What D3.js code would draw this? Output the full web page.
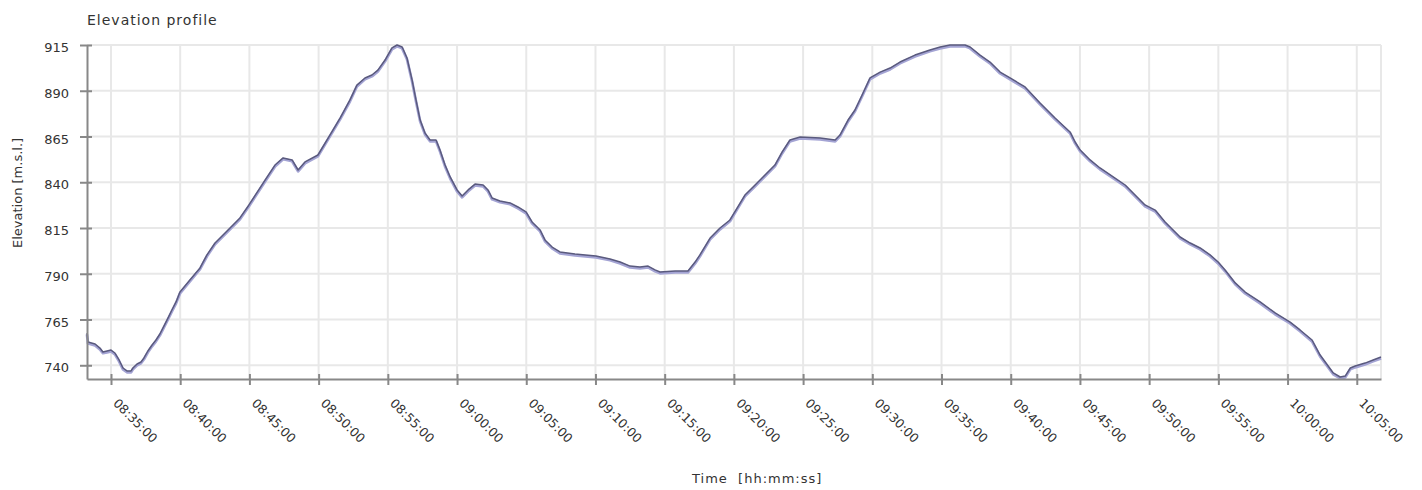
<!DOCTYPE html>
<html>
<head>
<meta charset="utf-8">
<script src="https://cdn.jsdelivr.net/npm/d3@7"></script>
<style>
  html, body { margin: 0; padding: 0; background: #fff; }
  svg { display: block; font-family: "DejaVu Sans", sans-serif; }
</style>
</head>
<body>
<svg id="chart" width="1422" height="490"></svg>
<script>
// Recorded track: clock time and elevation above mean sea level
const times = [
  "08:33:16","08:33:20","08:33:51","08:34:12","08:34:25","08:34:43","08:35:00","08:35:17",
  "08:35:35","08:35:52","08:36:09","08:36:27","08:36:35","08:36:53","08:37:10","08:37:23",
  "08:37:40","08:37:58","08:38:15","08:38:32","08:38:50","08:39:07","08:39:24","08:39:42",
  "08:39:59","08:40:42","08:41:26","08:41:56","08:42:31","08:43:36","08:44:19","08:44:58",
  "08:46:08","08:46:51","08:47:26","08:48:05","08:48:31","08:49:01","08:49:57","08:50:49",
  "08:51:33","08:52:16","08:52:46","08:53:21","08:53:51","08:54:17","08:54:48","08:55:18",
  "08:55:40","08:56:02","08:56:23","08:56:45","08:57:02","08:57:20","08:57:41","08:58:03",
  "08:58:29","08:58:46","08:59:08","08:59:30","09:00:00","09:00:22","09:00:48","09:01:18",
  "09:01:53","09:02:14","09:02:32","09:03:06","09:03:50","09:04:24","09:04:59","09:05:25",
  "09:06:00","09:06:21","09:06:52","09:07:26","09:08:31","09:10:02","09:11:03","09:11:47",
  "09:12:30","09:13:13","09:13:48","09:14:18","09:14:40","09:15:45","09:16:41","09:17:12",
  "09:17:33","09:18:17","09:19:00","09:19:43","09:20:14","09:20:48","09:21:32","09:22:15",
  "09:22:58","09:23:29","09:24:03","09:24:47","09:26:14","09:27:19","09:27:40","09:28:15",
  "09:28:45","09:29:16","09:29:50","09:30:34","09:31:17","09:32:00","09:33:05","09:34:10",
  "09:34:54","09:35:37","09:36:42","09:37:04","09:37:47","09:38:30","09:39:14","09:39:57",
  "09:41:02","09:42:07","09:43:12","09:44:17","09:44:39","09:45:01","09:45:44","09:46:27",
  "09:47:32","09:48:16","09:48:59","09:49:42","09:50:26","09:51:09","09:52:14","09:52:58",
  "09:53:41","09:54:24","09:54:59","09:55:29","09:56:13","09:56:56","09:58:01","09:59:06",
  "10:00:11","10:00:54","10:01:46","10:02:21","10:03:18","10:03:48","10:04:10","10:04:32",
  "10:04:53","10:05:36","10:06:11","10:06:45"
];
const elevations = [
  757.6,752.7,751.6,749.4,747.3,747.8,748.3,746.7,
  742.9,738.5,736.9,736.9,738.5,740.7,741.8,744.0,
  747.8,751.1,753.8,757.1,761.5,765.8,770.2,774.6,
  780.0,786.6,793.2,800.3,806.8,815.0,820.5,827.6,
  841.2,849.4,853.3,852.2,846.7,851.1,854.9,865.8,
  875.1,885.0,893.1,897.0,898.6,901.3,906.8,913.4,
  915.0,913.9,907.9,895.9,885.0,874.0,866.9,863.1,
  863.1,857.6,849.4,842.9,835.8,832.5,835.8,839.0,
  838.5,835.8,831.4,829.8,828.7,826.5,823.8,818.3,
  813.9,808.5,804.6,801.9,800.8,799.7,798.1,796.4,
  794.2,793.7,794.2,792.1,791.0,791.5,791.5,796.4,
  800.3,809.5,815.0,819.4,825.9,833.0,838.5,844.0,
  849.4,856.5,863.1,864.7,864.2,863.1,865.8,874.0,
  879.5,887.7,897.0,900.2,902.4,905.7,909.5,912.3,
  913.9,915.0,915.0,913.9,909.5,905.7,900.2,897.0,
  892.1,883.3,875.1,867.5,862.0,857.6,852.2,847.8,
  842.3,838.5,833.0,827.6,824.8,818.3,810.1,806.8,
  804.1,800.3,796.4,792.1,785.0,780.0,774.6,768.6,
  763.6,759.3,753.8,745.6,735.8,733.6,734.1,738.5,
  739.6,741.2,742.9,744.5
];
const yTicks = [740, 765, 790, 815, 840, 865, 890, 915];
const yDomain = [732.5, 915];

const chartTitle = "Elevation profile";
const xTitle = "Time  [hh:mm:ss]";
const yTitle = "Elevation [m.s.l.]";

const W = 1422, H = 490;
const margin = { top: 45, right: 41, bottom: 111, left: 87 };
const iw = W - margin.left - margin.right;
const ih = H - margin.top - margin.bottom;

const parse = d3.timeParse("%H:%M:%S");
const data = times.map((t, i) => ({ t: parse(t), v: elevations[i] }));

const x = d3.scaleTime()
  .domain(d3.extent(data, d => d.t))
  .range([0, iw]);
const y = d3.scaleLinear().domain(yDomain).range([ih, 0]);

const svg = d3.select("#chart");
const g = svg.append("g").attr("transform", `translate(${margin.left},${margin.top})`);

const xTickVals = x.ticks(d3.timeMinute.every(5));

// grid
g.append("g").selectAll("line").data(yTicks).join("line")
  .attr("x1", 0).attr("x2", iw)
  .attr("y1", d => y(d)).attr("y2", d => y(d))
  .attr("stroke", "#e8e8e8").attr("stroke-width", 2);
g.append("g").selectAll("line").data(xTickVals).join("line")
  .attr("x1", d => x(d)).attr("x2", d => x(d))
  .attr("y1", 0).attr("y2", ih)
  .attr("stroke", "#e8e8e8").attr("stroke-width", 2);
// right border
g.append("line").attr("x1", iw).attr("x2", iw).attr("y1", 0).attr("y2", ih)
  .attr("stroke", "#e8e8e8").attr("stroke-width", 2);

// elevation line with soft lavender edge
const line = d3.line().x(d => x(d.t)).y(d => y(d.v));
g.append("path").datum(data)
  .attr("d", line)
  .attr("transform", "translate(0,1.3)")
  .attr("fill", "none").attr("stroke", "#a4a4d4").attr("stroke-width", 2.8)
  .attr("stroke-linejoin", "round");
g.append("path").datum(data)
  .attr("d", line)
  .attr("fill", "none").attr("stroke", "#5a5a7e").attr("stroke-width", 1.5)
  .attr("stroke-linejoin", "round");

// y axis
const yAxis = g.append("g")
  .call(d3.axisLeft(y).tickValues(yTicks).tickSize(7).tickPadding(11).tickSizeOuter(0));
yAxis.select(".domain").attr("stroke", "#888").attr("stroke-width", 2);
yAxis.selectAll(".tick line").attr("stroke", "#888").attr("stroke-width", 2)
  .attr("x2", -7).attr("x1", 5);
yAxis.selectAll(".tick text")
  .attr("font-size", 13).attr("fill", "#333").attr("font-family", "DejaVu Sans")
  .attr("dy", "0.5em");

// x axis
const xAxis = g.append("g").attr("transform", `translate(0,${ih})`)
  .call(d3.axisBottom(x).tickValues(xTickVals).tickFormat(d3.timeFormat("%H:%M:%S")).tickSize(6).tickSizeOuter(0));
xAxis.select(".domain").attr("stroke", "#888").attr("stroke-width", 2);
xAxis.selectAll(".tick line").attr("stroke", "#888").attr("stroke-width", 2)
  .attr("y1", -5).attr("y2", 6);
xAxis.selectAll(".tick text")
  .attr("font-size", 12.5).attr("fill", "#333").attr("font-family", "DejaVu Sans")
  .attr("text-anchor", "start")
  .attr("y", 0).attr("dy", 0)
  .attr("transform", "translate(1,25) rotate(45)");

// titles
svg.append("text").attr("x", 87).attr("y", 25)
  .attr("font-size", 14).attr("letter-spacing", 1).attr("fill", "#333")
  .text(chartTitle);
svg.append("text").attr("x", 692).attr("y", 483)
  .attr("font-size", 13).attr("letter-spacing", 1).attr("fill", "#333")
  .style("white-space", "pre")
  .text(xTitle);
svg.append("text").attr("transform", "translate(22,248) rotate(-90)")
  .attr("font-size", 13).attr("fill", "#333")
  .text(yTitle);
</script>
</body>
</html>
